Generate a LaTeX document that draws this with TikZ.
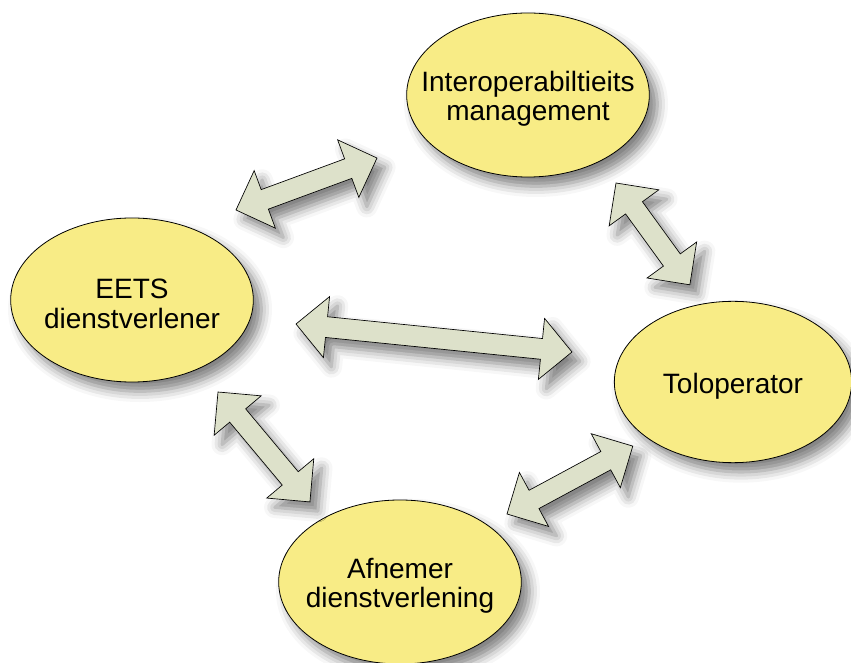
\documentclass[tikz,border=0pt]{standalone}
\usepackage{fontspec}
\setmainfont{Liberation Sans}
\usetikzlibrary{shapes.geometric,calc,shadows.blur}
\definecolor{partyfill}{RGB}{248,236,134}
\definecolor{arrowfill}{RGB}{221,225,202}
\tikzset{
  softshadow/.style={blur shadow={shadow xshift=6pt, shadow yshift=-7pt, shadow blur radius=8pt, shadow opacity=50}},
  party/.style={ellipse, draw=black, line width=0.6pt, fill=partyfill, softshadow,
    minimum width=182pt, minimum height=123pt, inner sep=0pt},
  partytext/.style={align=center, inner sep=0pt, yshift=-3pt, font=\fontsize{21}{22}\selectfont},
  arrowbody/.style={draw=black, line width=0.5pt, fill=arrowfill, line join=miter, softshadow}
}
\newcommand\headlen{23pt}
\newcommand\headhalf{23pt}
\newcommand\shafthalf{7.8pt}
\newcommand\blockarrow[2]{%
  \path[arrowbody] let \p1=(#1), \p2=(#2),
    \n1={atan2(\y2-\y1,\x2-\x1)}, \n2={veclen(\x2-\x1,\y2-\y1)} in
    [shift={(\p1)}, rotate=\n1]
    (0pt,0pt) -- (\headlen,\headhalf) -- (\headlen,\shafthalf) -- (\n2-\headlen,\shafthalf)
    -- (\n2-\headlen,\headhalf) -- (\n2,0pt) -- (\n2-\headlen,-\headhalf)
    -- (\n2-\headlen,-\shafthalf) -- (\headlen,-\shafthalf) -- (\headlen,-\headhalf) -- cycle;}
\begin{document}
\begin{tikzpicture}[x=0.75pt,y=-0.75pt]
\useasboundingbox (0,0) rectangle (851,663);
\node[party, label={[partytext]center:Interoperabiltieits\\management}] (interop) at (528,95) {};
\node[party, label={[partytext]center:EETS\\dienstverlener}] (eets) at (132,300) {};
\node[party, minimum width=178pt, minimum height=121pt, label={[partytext]center:Toloperator}] (tol) at (733,382) {};
\node[party, label={[partytext]center:Afnemer\\dienstverlening}] (afnemer) at (400,582) {};
\coordinate (eets-interop) at (236,210);
\coordinate (interop-eets) at (377,158);
\coordinate (eets-tol) at (296,324);
\coordinate (tol-eets) at (572,352);
\coordinate (eets-afnemer) at (218,392);
\coordinate (afnemer-eets) at (310,502);
\coordinate (afnemer-tol) at (507,514);
\coordinate (tol-afnemer) at (633,446);
\coordinate (interop-tol) at (616,183);
\coordinate (tol-interop) at (690,285);
\blockarrow{eets-interop}{interop-eets}
\blockarrow{eets-tol}{tol-eets}
\blockarrow{eets-afnemer}{afnemer-eets}
\blockarrow{afnemer-tol}{tol-afnemer}
\blockarrow{interop-tol}{tol-interop}
\end{tikzpicture}
\end{document}
